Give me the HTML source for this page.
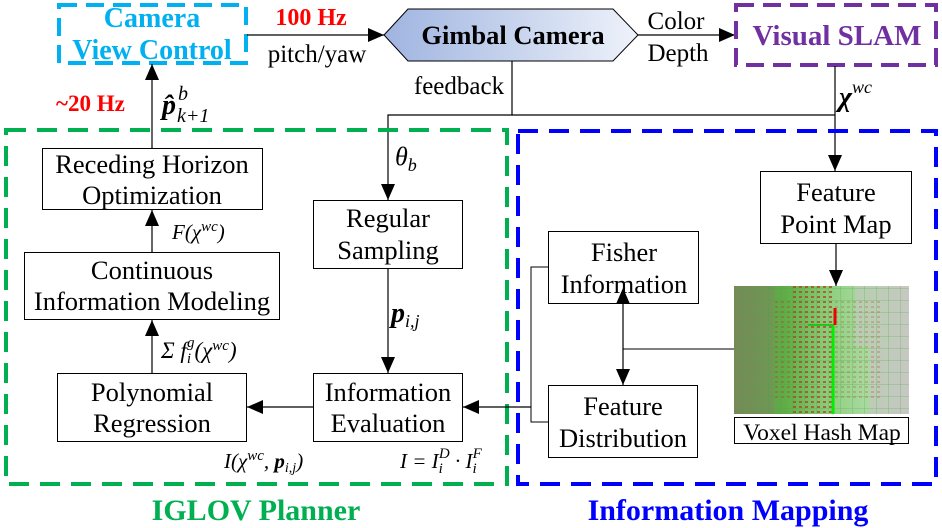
<!DOCTYPE html>
<html><head><meta charset="utf-8"><style>
html,body{margin:0;padding:0;background:#fff;}
svg{display:block;font-family:"Liberation Serif",serif;}
</style></head><body>
<svg width="942" height="528" viewBox="0 0 942 528" xmlns="http://www.w3.org/2000/svg">
<defs>
<linearGradient id="gc" x1="0" x2="1" y1="0" y2="0">
<stop offset="0" stop-color="#9fb4e0"/><stop offset="1" stop-color="#eef2fa"/>
</linearGradient>
<marker id="ah" viewBox="0 0 16 14" refX="16" refY="7" markerWidth="16" markerHeight="14" markerUnits="userSpaceOnUse" orient="auto">
<path d="M0,0 L16,7 L0,14 z" fill="#000"/></marker>
<marker id="ahs" viewBox="0 0 16 14" refX="0" refY="7" markerWidth="16" markerHeight="14" markerUnits="userSpaceOnUse" orient="auto-start-reverse">
<path d="M0,0 L16,7 L0,14 z" fill="#000"/></marker>
<linearGradient id="img" x1="0" x2="1">
<stop offset="0" stop-color="#6f8a50"/><stop offset="0.3" stop-color="#5fae48"/><stop offset="0.55" stop-color="#8fcf80"/><stop offset="0.75" stop-color="#a9d9a0"/><stop offset="1" stop-color="#c9cbc4"/>
</linearGradient>
<pattern id="grid" width="12" height="12" patternUnits="userSpaceOnUse">
<path d="M12,0 L0,0 0,12" fill="none" stroke="#3da83a" stroke-width="0.8" opacity="0.6"/></pattern>
<pattern id="dots" width="6" height="5" patternUnits="userSpaceOnUse">
<rect x="1" y="1" width="3" height="2" fill="#b0441c"/></pattern>
</defs>

<rect x="59" y="5" width="187" height="58" fill="none" stroke="#00b0f0" stroke-width="4" stroke-dasharray="18,9"/>
<text x="152" y="27" font-size="28" font-weight="bold" fill="#00b0f0" text-anchor="middle">Camera</text>
<text x="152" y="59" font-size="28" font-weight="bold" fill="#00b0f0" text-anchor="middle">View Control</text>

<line x1="247" y1="35" x2="384" y2="35" stroke="#000" stroke-width="1.2" marker-end="url(#ah)"/>
<text x="311" y="25" font-size="24" font-weight="bold" fill="#f00" text-anchor="middle">100 Hz</text>
<text x="317" y="62" font-size="25" fill="#000" text-anchor="middle">pitch/yaw</text>

<polygon points="384,35 408,9 613,9 638,35 613,61 408,61" fill="url(#gc)" stroke="#000" stroke-width="1"/>
<text x="513" y="44" font-size="26.5" font-weight="bold" text-anchor="middle">Gimbal Camera</text>

<line x1="638" y1="35" x2="735" y2="35" stroke="#000" stroke-width="1.2" marker-end="url(#ah)"/>
<text x="676" y="29" font-size="25" text-anchor="middle">Color</text>
<text x="678" y="61" font-size="25" text-anchor="middle">Depth</text>

<rect x="736" y="5" width="200" height="60" fill="none" stroke="#7030a0" stroke-width="4" stroke-dasharray="18,9"/>
<text x="837" y="45" font-size="29" font-weight="bold" fill="#7030a0" text-anchor="middle">Visual SLAM</text>

<text x="459" y="94" font-size="25" text-anchor="middle">feedback</text>
<polyline points="512,61 512,115 388,115 388,200" fill="none" stroke="#000" stroke-width="1.2" marker-end="url(#ah)"/>
<line x1="512" y1="115" x2="835" y2="115" stroke="#000" stroke-width="1.2"/>
<line x1="835" y1="66" x2="835" y2="171" stroke="#000" stroke-width="1.2" marker-end="url(#ah)"/>
<text x="839" y="106" font-size="28" font-weight="bold" font-style="italic">χ<tspan font-size="18" dy="-13" font-weight="normal">wc</tspan></text>
<text x="395" y="165" font-size="26" font-style="italic">θ<tspan font-size="18" dy="6">b</tspan></text>

<line x1="152" y1="148" x2="152" y2="64" stroke="#000" stroke-width="1.2" marker-end="url(#ah)"/>
<text x="56" y="111" font-size="23" font-weight="bold" fill="#f00">~20 Hz</text>
<text x="162" y="114" font-size="28" font-weight="bold" font-style="italic">p̂<tspan font-size="20" font-weight="normal" font-style="italic" dx="2" dy="-14">b</tspan><tspan font-size="20" font-weight="normal" dx="-11" dy="22">k+1</tspan></text>

<rect x="6" y="130" width="501" height="354" fill="none" stroke="#00b050" stroke-width="4" stroke-dasharray="20,11"/>
<text x="256" y="520" font-size="30" font-weight="bold" fill="#00b050" text-anchor="middle">IGLOV Planner</text>
<rect x="518" y="131" width="418" height="353" fill="none" stroke="#0000ff" stroke-width="4" stroke-dasharray="20,11"/>
<text x="728" y="520" font-size="30" font-weight="bold" fill="#0000ff" text-anchor="middle">Information Mapping</text>

<g fill="#fff" stroke="#000" stroke-width="1">
<rect x="42.5" y="148.5" width="220" height="61"/>
<rect x="24.5" y="252.5" width="255" height="67"/>
<rect x="57.5" y="373.5" width="189" height="68"/>
<rect x="313.5" y="200.5" width="149" height="68"/>
<rect x="313.5" y="373.5" width="149" height="68"/>
<rect x="548.5" y="231.5" width="150" height="72"/>
<rect x="548.5" y="385.5" width="149" height="72"/>
<rect x="760.5" y="171.5" width="151" height="72"/>
<rect x="734.5" y="417.5" width="174" height="26"/>
</g>
<g font-size="26.5" text-anchor="middle">
<text x="152" y="173">Receding Horizon</text>
<text x="152" y="204">Optimization</text>
<text x="152" y="279">Continuous</text>
<text x="152" y="310">Information Modeling</text>
<text x="152" y="401">Polynomial</text>
<text x="152" y="432">Regression</text>
<text x="388" y="227">Regular</text>
<text x="388" y="259">Sampling</text>
<text x="388" y="401">Information</text>
<text x="388" y="432">Evaluation</text>
<text x="624" y="261">Fisher</text>
<text x="624" y="293">Information</text>
<text x="623" y="415">Feature</text>
<text x="623" y="447">Distribution</text>
<text x="836" y="201">Feature</text>
<text x="836" y="233">Point Map</text>
<text x="822" y="440" font-size="23.5">Voxel Hash Map</text>
</g>

<line x1="152" y1="252" x2="152" y2="210" stroke="#000" stroke-width="1.2" marker-end="url(#ah)"/>
<text x="172" y="239" font-size="21" font-style="italic">F(χ<tspan font-size="15" dy="-8">wc</tspan><tspan dy="8">)</tspan></text>
<line x1="152" y1="373" x2="152" y2="320" stroke="#000" stroke-width="1.2" marker-end="url(#ah)"/>
<text x="161" y="358" font-size="23" font-style="italic">Σ f<tspan font-size="15" dy="5">i</tspan><tspan font-size="15" dx="-4" dy="-16">g</tspan><tspan dy="11">(χ</tspan><tspan font-size="15" dy="-8">wc</tspan><tspan dy="8">)</tspan></text>
<line x1="388" y1="268" x2="388" y2="373" stroke="#000" stroke-width="1.2" marker-end="url(#ah)"/>
<text x="391" y="322" font-size="28" font-weight="bold" font-style="italic">p<tspan font-size="18" font-weight="normal" dy="5">i,j</tspan></text>
<line x1="313" y1="407" x2="247" y2="407" stroke="#000" stroke-width="1.2" marker-end="url(#ah)"/>
<text x="224" y="468" font-size="21" font-style="italic">I(χ<tspan font-size="15" dy="-8">wc</tspan><tspan dy="8">, </tspan><tspan font-weight="bold">p</tspan><tspan font-size="14" dy="4">i,j</tspan><tspan dy="-4">)</tspan></text>
<text x="400" y="468" font-size="21" font-style="italic">I = I<tspan font-size="15" dy="5">i</tspan><tspan font-size="15" dx="-4" dy="-15">D</tspan><tspan dy="10"> · I</tspan><tspan font-size="15" dy="5">i</tspan><tspan font-size="15" dx="-4" dy="-15">F</tspan></text>

<polyline points="548,267 531,267 531,422 548,422" fill="none" stroke="#000" stroke-width="1"/>
<line x1="531" y1="407" x2="463" y2="407" stroke="#000" stroke-width="1.2" marker-end="url(#ah)"/>
<line x1="623" y1="304" x2="623" y2="385" stroke="#000" stroke-width="1.2" marker-start="url(#ahs)" marker-end="url(#ah)"/>
<line x1="623" y1="349" x2="734" y2="349" stroke="#000" stroke-width="1"/>
<line x1="836" y1="244" x2="836" y2="286" stroke="#000" stroke-width="1.2" marker-end="url(#ah)"/>

<rect x="734" y="286" width="175" height="128" fill="url(#img)"/>
<rect x="734" y="286" width="40" height="128" fill="#7b8a60" opacity="0.5"/>
<rect x="855" y="286" width="54" height="60" fill="#c4c6c0" opacity="0.6"/>
<rect x="870" y="346" width="39" height="68" fill="#c4c6c0" opacity="0.7"/>
<rect x="734" y="286" width="175" height="128" fill="url(#grid)"/>
<rect x="790" y="286" width="42" height="128" fill="url(#dots)" opacity="0.75"/>
<rect x="775" y="300" width="15" height="100" fill="url(#dots)" opacity="0.35"/>
<rect x="832" y="300" width="50" height="100" fill="url(#dots)" opacity="0.25"/>
<line x1="833" y1="325" x2="833" y2="414" stroke="#00ee00" stroke-width="3"/>
<line x1="808" y1="325" x2="833" y2="325" stroke="#00cc00" stroke-width="1.5"/>
<line x1="835" y1="308" x2="835" y2="325" stroke="#ee0000" stroke-width="3"/>
</svg>
</body></html>
